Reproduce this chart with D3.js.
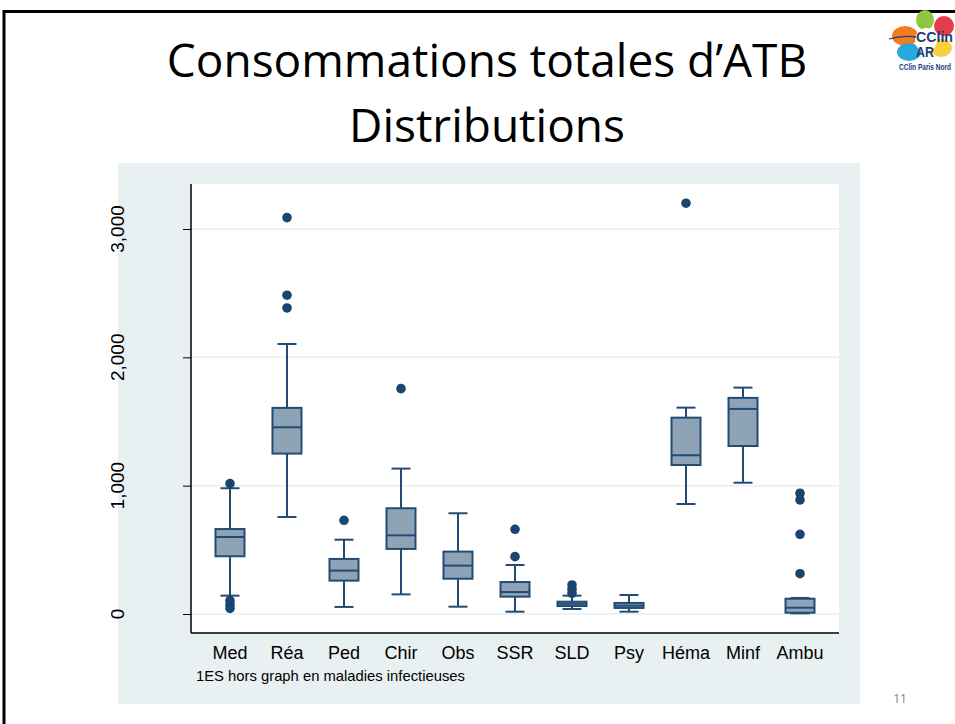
<!DOCTYPE html>
<html><head><meta charset="utf-8">
<script src="https://cdn.jsdelivr.net/npm/d3@7"></script>
<style>body{margin:0;background:#fff;}svg{display:block;}</style>
</head><body>
<script>
// ---- data ----
const categories = ["Med","Réa","Ped","Chir","Obs","SSR","SLD","Psy","Héma","Minf","Ambu"];
const whiskerLow  = [143, 756, 55, 153, 57, 18, 39, 18, 857, 1023, 5];
const q1          = [450, 1250, 260, 507, 275, 135, 62, 47, 1161, 1309, 10];
const medians     = [600, 1455, 338, 613, 377, 171, 80, 65, 1237, 1598, 49];
const q3          = [662, 1606, 429, 824, 486, 249, 96, 86, 1530, 1684, 119];
const whiskerHigh = [980, 2104, 579, 1133, 785, 382, 143, 148, 1608, 1764, 125];
const outliers = [
  [1016, 104, 70, 44],
  [3089, 2484, 2385],
  [730],
  [1756],
  [],
  [660, 447],
  [226, 192, 161],
  [],
  [3201],
  [],
  [941, 889, 621, 314]
];
const yTicks = [0, 1000, 2000, 3000];
const yTickLabels = ["0", "1,000", "2,000", "3,000"];
const titleLines = ["Consommations totales d\u2019ATB", "Distributions"];
const footnote = "1ES hors graph en maladies infectieuses";
const pageNumber = "11";
const logoLines = ["CClin", "AR", "CClin Paris Nord"];

// ---- drawing ----
const W = 955, H = 724;
const svg = d3.select("body").append("svg").attr("width", W).attr("height", H);
const defs = svg.append("defs");
defs.append("clipPath").attr("id", "ylabclip").append("rect")
  .attr("x", 111).attr("y", 150).attr("width", 100).attr("height", 520);

// slide border
svg.append("rect").attr("x", 4).attr("y", 11.5).attr("width", W + 10).attr("height", H + 10)
  .attr("fill", "#fff").attr("stroke", "#000").attr("stroke-width", 3);

// title
svg.append("text").attr("x", 487).attr("y", 77).attr("text-anchor", "middle")
  .attr("font-family", "Open Sans, sans-serif").attr("font-size", 46).attr("fill", "#000")
  .text(titleLines[0]);
svg.append("text").attr("x", 487).attr("y", 142).attr("text-anchor", "middle")
  .attr("font-family", "Open Sans, sans-serif").attr("font-size", 46).attr("fill", "#000")
  .text(titleLines[1]);

// logo (approximation)
const logo = svg.append("g");
const navy = "#1d3c78";
logo.append("ellipse").attr("cx", 925).attr("cy", 20).attr("rx", 9).attr("ry", 10).attr("fill", "#8dc63f");
logo.append("ellipse").attr("cx", 944).attr("cy", 26).attr("rx", 10).attr("ry", 10).attr("fill", "#e63b4b");
logo.append("ellipse").attr("cx", 905).attr("cy", 36).attr("rx", 13).attr("ry", 10).attr("fill", "#f47c20");
logo.append("ellipse").attr("cx", 909).attr("cy", 52).attr("rx", 12).attr("ry", 9).attr("fill", "#29a8e0");
logo.append("ellipse").attr("cx", 941).attr("cy", 48).attr("rx", 11).attr("ry", 9).attr("fill", "#f9d13e");
logo.append("ellipse").attr("cx", 926).attr("cy", 40).attr("rx", 11).attr("ry", 12).attr("fill", "#fff");
logo.append("path").attr("d", "M889,39 Q902,35 916,37").attr("fill", "none")
  .attr("stroke", navy).attr("stroke-width", 1.3);
logo.append("text").attr("x", 916).attr("y", 42).attr("textLength", 37).attr("lengthAdjust", "spacingAndGlyphs")
  .attr("font-family", "Liberation Sans, sans-serif").attr("font-weight", "bold").attr("font-size", 15)
  .attr("fill", navy).text(logoLines[0]);
logo.append("text").attr("x", 916).attr("y", 57).attr("textLength", 18).attr("lengthAdjust", "spacingAndGlyphs")
  .attr("font-family", "Liberation Sans, sans-serif").attr("font-weight", "bold").attr("font-size", 14)
  .attr("fill", navy).text(logoLines[1]);
logo.append("text").attr("x", 899).attr("y", 70).attr("textLength", 52).attr("lengthAdjust", "spacingAndGlyphs")
  .attr("font-family", "Liberation Sans, sans-serif").attr("font-weight", "bold").attr("font-size", 8.5)
  .attr("fill", navy).text(logoLines[2]);

// graph panel
svg.append("rect").attr("x", 118).attr("y", 163).attr("width", 742).attr("height", 541).attr("fill", "#e9f0f2");

const plot = {left: 191, right: 839, top: 184, bottom: 633};
svg.append("rect").attr("x", plot.left).attr("y", plot.top)
  .attr("width", plot.right - plot.left).attr("height", plot.bottom - plot.top).attr("fill", "#fff");

const y = d3.scaleLinear().domain([0, 3000]).range([614, 229]);
const x = d3.scalePoint().domain(categories).range([plot.left, plot.right]).padding(0.684);

// gridlines
svg.append("g").selectAll("line").data(yTicks).join("line")
  .attr("x1", plot.left).attr("x2", plot.right)
  .attr("y1", d => y(d)).attr("y2", d => y(d))
  .attr("stroke", "#e6eff1").attr("stroke-width", 1.5);

// y axis
const yAxis = d3.axisLeft(y).tickValues(yTicks).tickSize(8).tickFormat((d, i) => yTickLabels[i]);
const gy = svg.append("g").attr("transform", `translate(${plot.left},0)`).call(yAxis);
gy.select(".domain").remove();
gy.selectAll(".tick line").attr("stroke", "#000").attr("stroke-width", 1);
gy.selectAll(".tick text").remove();
// rotated tick labels (partly clipped on the left, as in the reference)
svg.append("g").attr("clip-path", "url(#ylabclip)")
  .selectAll("text").data(yTicks).join("text")
  .attr("transform", d => `translate(123.5,${y(d)}) rotate(-90)`)
  .attr("text-anchor", "middle")
  .attr("font-family", "Liberation Sans, Arial, sans-serif").attr("font-size", 19).attr("fill", "#000")
  .text((d, i) => yTickLabels[i]);

svg.append("line").attr("x1", plot.left).attr("x2", plot.left).attr("y1", plot.top).attr("y2", plot.bottom)
  .attr("stroke", "#000").attr("stroke-width", 1.5);
svg.append("line").attr("x1", plot.left).attr("x2", plot.right).attr("y1", plot.bottom).attr("y2", plot.bottom)
  .attr("stroke", "#000").attr("stroke-width", 1.5);

// x labels
svg.append("g").selectAll("text").data(categories).join("text")
  .attr("x", d => x(d)).attr("y", 659).attr("text-anchor", "middle")
  .attr("font-family", "Liberation Sans, Arial, sans-serif").attr("font-size", 18).attr("fill", "#000")
  .text(d => d);

// boxes
const stroke = "#234c74", fill = "#8fa3b7", dotColor = "#1b4570";
const boxW = 29, capW = 19;
const g = svg.append("g");
categories.forEach((c, i) => {
  const cx = x(c);
  const gg = g.append("g");
  gg.append("line").attr("x1", cx).attr("x2", cx).attr("y1", y(whiskerHigh[i])).attr("y2", y(q3[i]))
    .attr("stroke", stroke).attr("stroke-width", 2);
  gg.append("line").attr("x1", cx).attr("x2", cx).attr("y1", y(q1[i])).attr("y2", y(whiskerLow[i]))
    .attr("stroke", stroke).attr("stroke-width", 2);
  gg.append("line").attr("x1", cx - capW / 2).attr("x2", cx + capW / 2)
    .attr("y1", y(whiskerHigh[i])).attr("y2", y(whiskerHigh[i])).attr("stroke", stroke).attr("stroke-width", 2);
  gg.append("line").attr("x1", cx - capW / 2).attr("x2", cx + capW / 2)
    .attr("y1", y(whiskerLow[i])).attr("y2", y(whiskerLow[i])).attr("stroke", stroke).attr("stroke-width", 2);
  gg.append("rect").attr("x", cx - boxW / 2).attr("width", boxW)
    .attr("y", y(q3[i])).attr("height", y(q1[i]) - y(q3[i]))
    .attr("fill", fill).attr("stroke", stroke).attr("stroke-width", 2);
  gg.append("line").attr("x1", cx - boxW / 2).attr("x2", cx + boxW / 2)
    .attr("y1", y(medians[i])).attr("y2", y(medians[i])).attr("stroke", stroke).attr("stroke-width", 2);
  gg.selectAll("circle").data(outliers[i]).join("circle")
    .attr("cx", cx).attr("cy", d => y(d)).attr("r", 4.8).attr("fill", dotColor);
});

// footnote
svg.append("text").attr("x", 196).attr("y", 680.5)
  .attr("font-family", "Liberation Sans, Arial, sans-serif").attr("font-size", 14.8).attr("fill", "#000")
  .text(footnote);

// page number
svg.append("text").attr("x", 900).attr("y", 703).attr("text-anchor", "middle")
  .attr("font-family", "Open Sans, sans-serif").attr("font-size", 12).attr("fill", "#7f7f7f")
  .text(pageNumber);
</script>
</body></html>
